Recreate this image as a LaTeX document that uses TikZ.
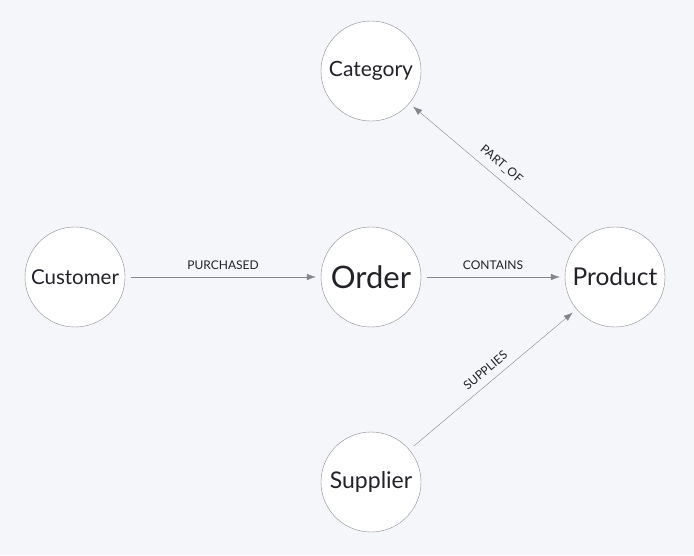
\documentclass[tikz,border=0pt]{standalone}
\usepackage{fontspec}
\setmainfont{Lato}
\usetikzlibrary{arrows.meta}
\definecolor{bgcol}{HTML}{F5F6FA}
\definecolor{rimcol}{HTML}{8C8C94}
\definecolor{linecol}{HTML}{85858D}
\definecolor{txtcol}{HTML}{222228}
\tikzset{
  entity/.style={circle, draw=rimcol, fill=white, minimum size=100pt, inner sep=0pt, text=txtcol},
  rel/.style={draw=linecol, thin, -{Latex[length=9pt,width=6.5pt]}, shorten <=6pt, shorten >=5pt},
  rellabel/.style={font=\fontsize{12}{14}\selectfont, text=txtcol, sloped, above=4pt}
}
\begin{document}
\begin{tikzpicture}[x=1pt,y=-1pt]
	\fill [bgcol] (0,0) rectangle (694,555);
	\useasboundingbox (0,0) rectangle (694,555);
	% entities
	\node [entity, font=\fontsize{21}{24}\selectfont] (category) at (371,71) {Category};
	\node [entity, font=\fontsize{20.5}{24}\selectfont] (customer) at (75,277) {Customer};
	\node [entity, font=\fontsize{31}{34}\selectfont] (order) at (371,277) {Order};
	\node [entity, font=\fontsize{24.5}{28}\selectfont] (product) at (615,277) {Product};
	\node [entity, font=\fontsize{23}{26}\selectfont] (supplier) at (371,482) {Supplier};
	% relationships
	\draw [rel] (customer) -- node [rellabel]{PURCHASED} (order);
	\draw [rel] (order) -- node [rellabel]{CONTAINS} (product);
	\draw [rel] (product) -- node [rellabel]{PART\_OF} (category);
	\draw [rel] (supplier) -- node [rellabel]{SUPPLIES} (product);
\end{tikzpicture}
\end{document}
